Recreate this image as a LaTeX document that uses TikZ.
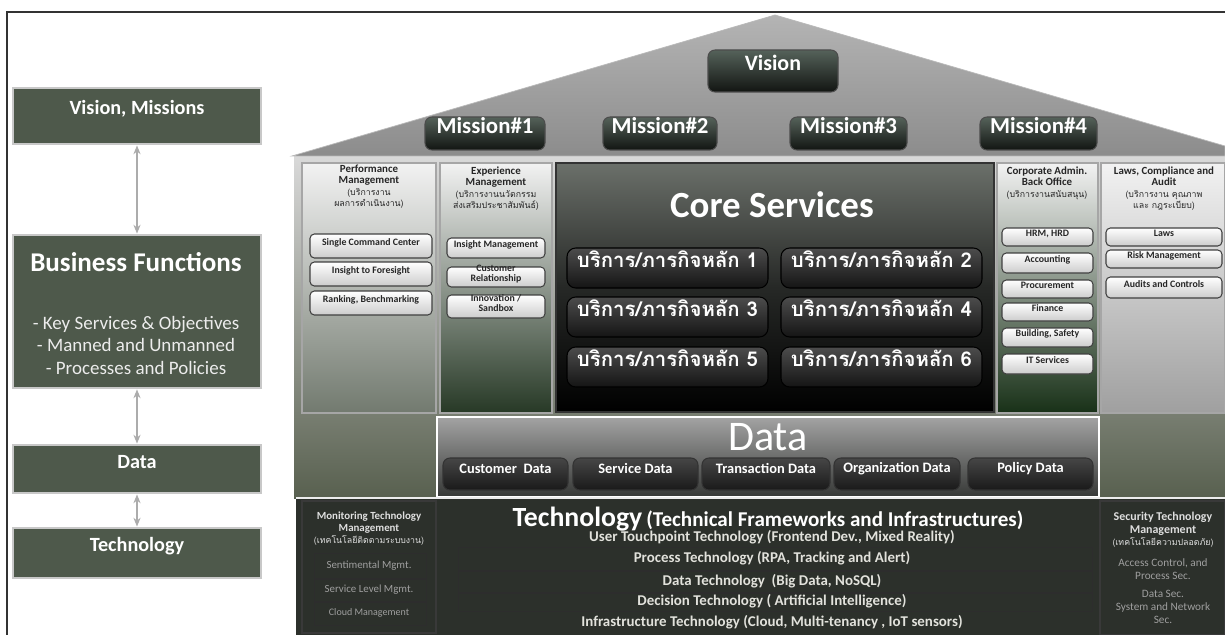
\documentclass[tikz,border=0pt]{standalone}
\usepackage{fontspec}
\setmainfont{Carlito}
\newfontfamily\thai[Script=Thai]{Loma}
\usetikzlibrary{fit,arrows.meta}
\definecolor{leftfill}{HTML}{4E594B}
\definecolor{leftborder}{HTML}{C8C8C8}
\definecolor{roofT}{HTML}{B4B4B4}
\definecolor{roofB}{HTML}{8C8C8C}
\definecolor{btnT}{HTML}{55625A}
\definecolor{btnB}{HTML}{121512}
\definecolor{bgT}{HTML}{D9D9D9}
\definecolor{bgB}{HTML}{58604F}
\definecolor{panT}{HTML}{F2F2F2}
\definecolor{panB}{HTML}{727A6F}
\definecolor{coreT}{HTML}{6B706A}
\definecolor{coreM}{HTML}{262826}
\definecolor{techfill}{HTML}{2C302B}
\definecolor{dataT}{HTML}{A3A3A3}
\definecolor{dataB}{HTML}{363836}
\definecolor{techtext}{HTML}{E2E2DC}
\begin{document}
\begin{tikzpicture}[x=0.02cm,y=-0.02cm,
  leftbox/.style={draw=leftborder,line width=1.6pt,fill=leftfill,inner sep=0pt,text=white,font=\fontsize{11.5}{13}\selectfont\bfseries},
  leftarrow/.style={<->,>={Stealth[length=5pt,width=4pt]},draw=gray!65,line width=1.3pt},
  darkbtn/.style={rounded corners=4pt,draw=gray!60!black,line width=0.6pt,top color=btnT,bottom color=btnB,inner sep=0pt,text=white,font=\fontsize{13}{14}\selectfont\bfseries},
  panelbox/.style={draw=gray!70,line width=0.6pt,top color=panT,bottom color=panB,inner sep=0pt},
  subbtn/.style={rounded corners=2.5pt,draw=black!75,line width=0.6pt,top color=white,bottom color=gray!40,inner sep=0pt,text=black!85,align=center,font=\fontsize{5.6}{5.8}\selectfont\bfseries},
  svcbtn/.style={rounded corners=5pt,draw=black,line width=0.6pt,top color=black!70,bottom color=black!92,inner sep=0pt,text=white,font=\thai\fontsize{11.6}{12}\selectfont\bfseries},
  databtn/.style={rounded corners=4pt,draw=black!80,line width=0.6pt,top color=gray!55!black,bottom color=black!90,inner sep=0pt,text=white,font=\fontsize{8.2}{9}\selectfont\bfseries},
  headtxt/.style={align=center,text=black!85,inner sep=0pt,font=\fontsize{6.2}{6.0}\selectfont},
  thaismall/.style={font=\thai\fontsize{5}{6}\selectfont},
  techline/.style={text=techtext,font=\fontsize{8.5}{9}\selectfont\bfseries,inner sep=0pt},
  sidetxt/.style={align=center,inner sep=0pt,text=gray!75}]
\useasboundingbox (0,0) rectangle (1225,635);
\fill[white] (0,0) rectangle (1225,635);
% outer frame
\draw[line width=0.8pt,black!80] (7,635) -- (7,12) -- (1225,12);

% left column
\node[leftbox,fit={(13,88) (261,144)}] (vm) {Vision, Missions};
\node[leftbox,fit={(13,235) (261,388)}] (bf) {};
\node[text=white,inner sep=0pt,font=\fontsize{15.4}{17}\selectfont\bfseries] (bft) at (136,262) {Business Functions};
\node[text=white!85!gray,align=center,inner sep=0pt,font=\fontsize{10.8}{12.8}\selectfont] (bfl) at (136,345)
  {- Key Services \& Objectives\\- Manned and Unmanned\\- Processes and Policies};
\node[leftbox,fit={(13,445) (261,493)}] (dt) {Data};
\node[leftbox,fit={(13,528) (261,578)}] (tc) {Technology};
\draw[leftarrow] (vm.south) -- (bf.north);
\draw[leftarrow] (bf.south) -- (dt.north);
\draw[leftarrow] (dt.south) -- (tc.north);

% house body background
\shade[top color=bgT,bottom color=bgB] (294,156) rectangle (1225,498);
% roof
\shade[top color=roofT,bottom color=roofB,draw=gray!55] (292,156) -- (775,15) -- (1225,146) -- (1225,156) -- cycle;
\node[darkbtn,fit={(708,50) (838,92)},font=\fontsize{12.5}{14}\selectfont\bfseries] (vis) {Vision};
\node[darkbtn,fit={(425,117) (545,150)}] (m1) {Mission\#1};
\node[darkbtn,fit={(603,117) (717,150)}] (m2) {Mission\#2};
\node[darkbtn,fit={(790,117) (907,150)}] (m3) {Mission\#3};
\node[darkbtn,fit={(980,117) (1097,150)}] (m4) {Mission\#4};

% panels
\node[panelbox,fit={(302,163) (436,413)}] (perf) {};
\node[panelbox,fit={(440,163) (552,413)},bottom color=panB!85!green!40!black] (exp) {};
\node[panelbox,fit={(997,163) (1098,413)},bottom color=panB!70!green!30!black] (corp) {};
\node[panelbox,fit={(1101,163) (1225,413)},bottom color=gray!75] (laws) {};
\node[fit={(556,163) (994,412)},inner sep=0pt,draw=black!80,line width=0.6pt,top color=coreT,bottom color=black,middle color=coreM] (core) {};

% panel headings
\node[headtxt,anchor=north] (perfh) at (369,165)
  {\textbf{Performance}\\\textbf{Management}\\[1pt]{\thai\fontsize{5}{6}\selectfont (บริการงาน}\\{\thai\fontsize{5}{6}\selectfont ผลการดำเนินงาน)}};
\node[headtxt,anchor=north] (exph) at (496,167)
  {\textbf{Experience}\\\textbf{Management}\\[1pt]{\thai\fontsize{5}{6}\selectfont (บริการงานนวัตกรรม}\\{\thai\fontsize{5}{6}\selectfont ส่งเสริมประชาสัมพันธ์)}};
\node[headtxt,anchor=north] (corph) at (1047,167)
  {\textbf{Corporate Admin.}\\\textbf{Back Office}\\[1pt]{\thai\fontsize{5}{6}\selectfont (บริการงานสนับสนุน)}};
\node[headtxt,anchor=north] (lawsh) at (1164,167)
  {\textbf{Laws, Compliance and}\\\textbf{Audit}\\[1pt]{\thai\fontsize{5}{6}\selectfont (บริการงาน คุณภาพ}\\{\thai\fontsize{5}{6}\selectfont และ กฎระเบียบ)}};

% performance sub-buttons
\node[subbtn,fit={(310,234) (432,258)}] (scc) {Single Command Center};
\node[subbtn,fit={(310,262) (432,286)}] (itf) {Insight to Foresight};
\node[subbtn,fit={(310,291) (432,315)}] (rb) {Ranking, Benchmarking};
% experience sub-buttons
\node[subbtn,fit={(447,238) (545,258)}] (im) {Insight Management};
\node[subbtn,fit={(447,267) (545,287)}] (cr) {Customer\\Relationship};
\node[subbtn,fit={(447,295) (545,318)}] (is) {Innovation /\\Sandbox};
% corporate sub-buttons
\node[subbtn,fit={(1002,228) (1093,246)}] (hrm) {HRM, HRD};
\node[subbtn,fit={(1002,253) (1093,273)}] (acc) {Accounting};
\node[subbtn,fit={(1002,280) (1093,298)}] (proc) {Procurement};
\node[subbtn,fit={(1002,303) (1093,321)}] (fin) {Finance};
\node[subbtn,fit={(1002,328) (1093,347)}] (bsf) {Building, Safety};
\node[subbtn,fit={(1002,354) (1093,374)}] (its) {IT Services};
% laws sub-buttons
\node[subbtn,fit={(1106,228) (1222,246)}] (lw) {Laws};
\node[subbtn,fit={(1106,250) (1222,268)}] (rm) {Risk Management};
\node[subbtn,fit={(1106,277) (1222,298)}] (ac) {Audits and Controls};

% core services
\node[text=white,inner sep=0pt,font=\fontsize{21}{24}\selectfont\bfseries] (coret) at (772,205) {Core Services};
\node[svcbtn,fit={(567,248) (768,288)}] (s1) {บริการ/ภารกิจหลัก 1};
\node[svcbtn,fit={(781,248) (982,288)}] (s2) {บริการ/ภารกิจหลัก 2};
\node[svcbtn,fit={(567,297) (768,337)}] (s3) {บริการ/ภารกิจหลัก 3};
\node[svcbtn,fit={(781,297) (982,337)}] (s4) {บริการ/ภารกิจหลัก 4};
\node[svcbtn,fit={(567,347) (768,387)}] (s5) {บริการ/ภารกิจหลัก 5};
\node[svcbtn,fit={(781,347) (982,387)}] (s6) {บริการ/ภารกิจหลัก 6};

% data band
\node[fit={(437,417) (1099,497)},inner sep=0pt,draw=white,line width=1.5pt,top color=dataT,bottom color=dataB] (data) {};
\node[text=white,inner sep=0pt,font=\fontsize{24}{26}\selectfont] (datat) at (768,437) {Data};
\node[databtn,fit={(443,458) (568,490)}] (d1) {Customer~ Data};
\node[databtn,fit={(573,458) (698,490)}] (d2) {Service Data};
\node[databtn,fit={(702,458) (830,490)}] (d3) {Transaction Data};
\node[databtn,fit={(834,458) (960,490)}] (d4) {Organization Data};
\node[databtn,fit={(968,458) (1093,490)}] (d5) {Policy Data};

% technology band
\fill[techfill] (296,499) rectangle (1225,635);
\draw[white!85!gray,line width=1.5pt] (296,498) -- (1225,498);
\node[fit={(302,501) (436,633)},inner sep=0pt,draw=gray!45!black,line width=0.6pt] (mon) {};
\node[fit={(1100,501) (1225,635)},inner sep=0pt,draw=gray!45!black,line width=0.6pt] (sec) {};
\foreach \ya/\yb in {553/578,579/601,602/625}{
  \draw[gray!35!black,line width=0.5pt] (314,\ya) rectangle (426,\yb);
}
\foreach \ya/\yb in {547/570,571/592,593/611}{
  \draw[gray!35!black,line width=0.5pt] (458,\ya) rectangle (1092,\yb);
}
\node[text=white,inner sep=0pt,anchor=base] (techt) at (768,526)
  {{\fontsize{15.8}{17}\selectfont\bfseries Technology} {\fontsize{12}{13}\selectfont\bfseries (Technical Frameworks and Infrastructures)}};
\node[techline] (t1) at (772,537) {User Touchpoint Technology (Frontend Dev., Mixed Reality)};
\node[techline] (t2) at (772,558) {Process Technology (RPA, Tracking and Alert)};
\node[techline] (t3) at (772,581) {Data Technology~ (Big Data, NoSQL)};
\node[techline] (t4) at (772,601) {Decision Technology ( Artificial Intelligence)};
\node[techline] (t5) at (772,622) {Infrastructure Technology (Cloud, Multi-tenancy , IoT sensors)};

\node[sidetxt,anchor=north,text=gray!25,font=\fontsize{6.2}{6.6}\selectfont] (monh) at (369,512)
  {\textbf{Monitoring Technology}\\\textbf{Management}\\{\thai\fontsize{5}{6}\selectfont (เทคโนโลยีติดตามระบบงาน)}};
\node[sidetxt,font=\fontsize{6.2}{7}\selectfont] (mon1) at (369,566) {Sentimental Mgmt.};
\node[sidetxt,font=\fontsize{6.2}{7}\selectfont] (mon2) at (369,590) {Service Level Mgmt.};
\node[sidetxt,font=\fontsize{5.7}{7}\selectfont] (mon3) at (369,613) {Cloud Management};

\node[sidetxt,anchor=north,text=gray!25,font=\fontsize{6.8}{7}\selectfont] (sech) at (1163,512)
  {\textbf{Security Technology}\\\textbf{Management}\\{\thai\fontsize{5}{6}\selectfont (เทคโนโลยีความปลอดภัย)}};
\node[sidetxt,font=\fontsize{6.4}{7.4}\selectfont] (sec1) at (1163,569) {Access Control, and\\Process Sec.};
\node[sidetxt,font=\fontsize{6.4}{7.6}\selectfont] (sec2) at (1163,607) {Data Sec.\\System and Network\\Sec.};
\end{tikzpicture}
\end{document}
